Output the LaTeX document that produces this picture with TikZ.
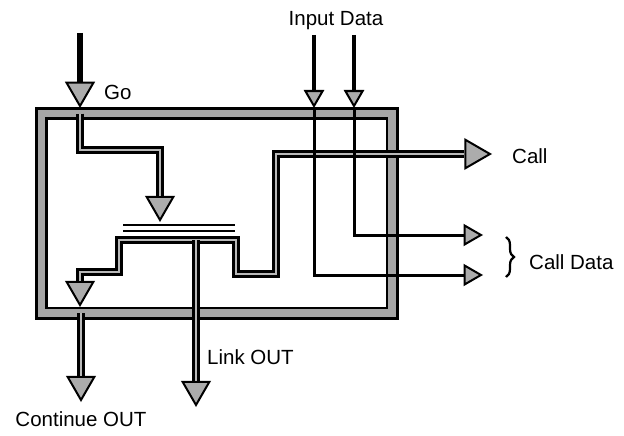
\documentclass[tikz,border=0pt]{standalone}
\usepackage{fontspec}
\setmainfont{Liberation Sans}
\usetikzlibrary{positioning,shapes.geometric,decorations.pathreplacing}

\begin{document}
\begin{tikzpicture}[
  x=1pt, y=-1pt,
  font=\fontsize{20.5}{24}\selectfont,
  frame/.style={draw=black, line width=2.8pt, line join=miter,
    double=gray!70, double distance=7.4pt},
  band/.style={draw=black, line width=2.2pt, line join=miter,
    double=gray!55, double distance=2.8pt},
  wire/.style={draw=black, line width=3pt},
  feed/.style={draw=black, line width=5.5pt},
  bar/.style={draw=black, line width=1.8pt, double=white, double distance=3.6pt},
  headdown/.style={
    regular polygon, regular polygon sides=3, shape border rotate=180,
    draw=black, line width=2pt, fill=gray!65,
    inner sep=0pt, minimum size=#1, anchor=corner 1,
  },
  headright/.style={
    regular polygon, regular polygon sides=3, shape border rotate=270,
    draw=black, line width=2pt, fill=gray!65,
    inner sep=0pt, minimum size=#1, anchor=corner 1,
  },
  lbl/.style={inner sep=0pt},
]

\useasboundingbox (0,0) rectangle (624,436);

% === FRAME ===
\draw[frame] (41.5,113.5) rectangle (392,313);

% === ARROW HEADS ===
\node[headdown=31pt] (go_head)   at (80,108)  {};
\node[headdown=31pt] (go2_head)  at (160,222) {};
\node[headdown=31pt] (cont_head) at (80,307)  {};
\node[headdown=31pt] (cont_out)  at (81,402)  {};
\node[headdown=31pt] (link_head) at (196,407) {};
\node[headdown=20pt] (in1_head)  at (314,108) {};
\node[headdown=20pt] (in2_head)  at (354,108) {};
\node[headright=33pt] (call_head) at (492,154) {};
\node[headright=22pt] (cd1_head)  at (483,235) {};
\node[headright=22pt] (cd2_head)  at (483,275) {};

% --- GO ---
\coordinate (go_top) at (80,33);
\coordinate (go_join) at (80,113.5);
\draw[feed] (go_top) -- (go_head.90);
\draw[band] (go_join) |- (160,150) -- (go2_head.90);

% --- BAR ---
\draw[bar] (123,228) -- (235,228);

% --- CONTINUE / CALL ---
\draw[band] (cont_head.90) -- (80,272) -- (119,272) -- (119,240)
  -- (236,240) -- (236,274) -- (276,274) -- (276,154) -- (call_head.180);
\coordinate (cont_join) at (81,313);
\draw[band] (cont_join) -- (cont_out.90);

% --- LINK ---
\coordinate (link_join) at (196,240);
\draw[band] (link_join) -- (link_head.90);

% --- INPUT DATA ---
\coordinate (in1_top) at (314,35);
\coordinate (in2_top) at (354,35);
\draw[wire, line width=4.5pt] (in1_top) -- (in1_head.90);
\draw[wire, line width=4.5pt] (in2_top) -- (in2_head.90);
\draw[wire] (in1_head.corner 1) |- (cd2_head.180);
\draw[wire] (in2_head.corner 1) |- (cd1_head.180);

% --- CALL DATA BRACE ---
\coordinate (br_top) at (506,237);
\coordinate (br_bot) at (506,277);
\draw[line width=2.2pt, decorate, decoration={brace, amplitude=8pt}] (br_top) -- (br_bot);

% === LABELS ===
\node[lbl, anchor=west] (go_lbl)   at (104,92)  {Go};
\node[lbl]              (in_lbl)   at (336,21)  {Input Data};
\node[lbl, anchor=west] (call_lbl) at (512,156) {Call};
\node[lbl, anchor=west] (cd_lbl)   at (529,262) {Call Data};
\node[lbl, anchor=west] (link_lbl) at (207,357) {Link OUT};
\node[lbl]              (cont_lbl) at (81,419)  {Continue OUT};

\end{tikzpicture}
\end{document}
